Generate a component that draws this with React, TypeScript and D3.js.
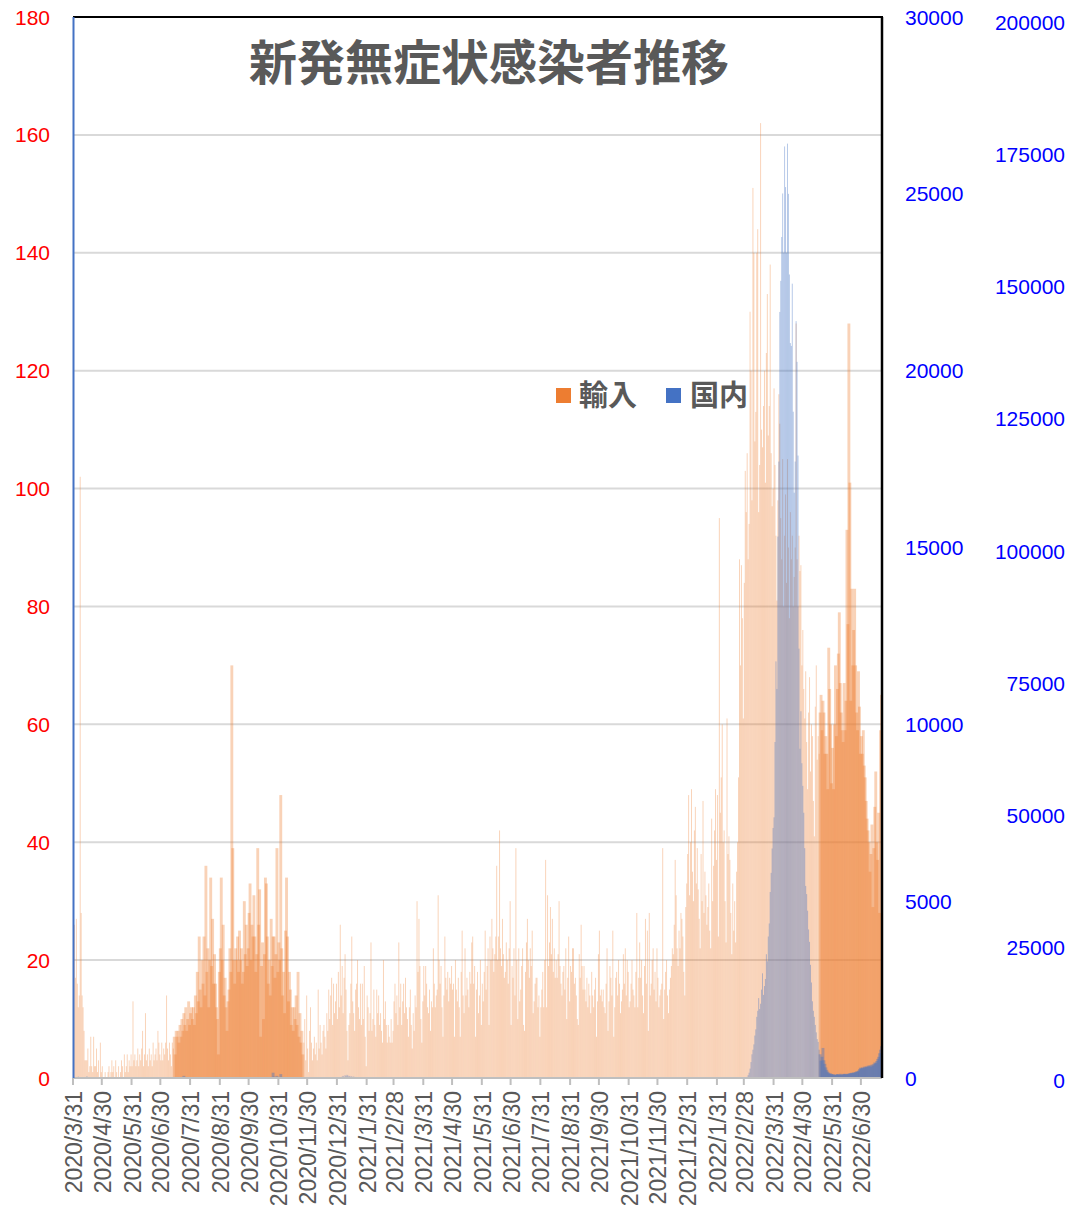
import React from "react";
import * as d3 from "d3";

const W = 1069;
const H = 1208;
const plot = { left: 73, right: 882, top: 17, bottom: 1078 };

const parse = d3.timeParse("%Y/%m/%d");

// daily categories
const firstDay = "2020/3/31";
const lastDay = "2022/7/21";

// imported (輸入), daily, left axis
const imported2020 = [
  16,
  26, 17, 27, 16, 12, 14, 102, 28, 14, 12, 8, 3, 3, 3, 5, 1, 2, 7, 2, 1, 7, 2, 2, 5, 1, 3, 0, 6, 1, 2,
  0, 0, 1, 0, 0, 1, 2, 0, 1, 3, 1, 2, 0, 3, 1, 0, 2, 0, 1, 3, 2, 0, 4, 1, 2, 4, 1, 3, 2, 4, 2,
  13, 3, 4, 2, 3, 5, 2, 4, 3, 5, 8, 2, 4, 11, 3, 4, 2, 5, 3, 4, 2, 6, 3, 4, 5, 3, 8, 6, 4, 3,
  6, 3, 5, 4, 6, 14, 5, 3, 6, 4, 2, 6, 5, 7, 4, 8, 7, 8, 6, 9, 7, 10, 8, 11, 9, 12, 8, 10, 13, 9, 11,
  12, 10, 12, 9, 14, 11, 18, 13, 24, 15, 12, 20, 16, 24, 14, 36, 18, 22, 12, 20, 34, 19, 27, 16, 21, 16, 12, 10, 4, 18, 22,
  34, 20, 26, 14, 17, 12, 8, 13, 15, 22, 18, 70, 39, 20, 16, 22, 20, 24, 18, 25, 20, 22, 16, 18, 30, 21, 26, 19, 22, 28,
  33, 20, 26, 24, 31, 24, 18, 21, 39, 26, 32, 7, 19, 23, 10, 21, 34, 33, 24, 16, 20, 14, 27, 19, 24, 24, 17, 21, 39, 18, 23,
  20, 48, 22, 14, 18, 11, 25, 34, 24, 13, 18, 15, 9, 12, 8, 12, 10, 14, 9, 18, 7, 11, 6, 8, 4, 6, 10, 3, 14, 5,
  1, 8, 12, 6, 3, 5, 7, 4, 6, 3, 15, 5, 9, 6, 4, 8, 9, 7, 5, 11, 8, 15, 10, 14, 17, 9, 16, 11, 13, 16, 10,
];
const imported2021 = [
  18, 12, 26, 14, 19, 11, 17, 21, 15, 8, 3, 9, 11, 16, 24, 13, 11, 8, 15, 16, 20, 12, 10, 16, 9, 16, 10, 19, 7, 2, 14,
  12, 8, 11, 23, 8, 10, 15, 9, 7, 15, 11, 14, 9, 11, 8, 6, 20, 10, 13, 9, 6, 9, 7, 6, 10, 6, 8, 13,
  16, 11, 14, 9, 23, 12, 16, 9, 13, 16, 11, 17, 12, 10, 7, 12, 15, 9, 5, 11, 8, 14, 12, 30, 18, 27, 19, 10, 6, 13, 19,
  14, 19, 16, 12, 11, 15, 8, 13, 12, 22, 16, 12, 14, 15, 31, 20, 16, 19, 12, 7, 14, 24, 17, 15, 18, 13, 17, 16, 19, 15,
  16, 7, 20, 15, 13, 17, 12, 7, 18, 25, 14, 11, 22, 14, 17, 15, 12, 18, 16, 23, 24, 16, 19, 7, 15, 18, 11, 14, 20, 9, 16,
  13, 18, 25, 15, 19, 22, 9, 24, 20, 27, 22, 18, 21, 24, 36, 20, 24, 42, 22, 19, 27, 21, 17, 18, 23, 20, 16, 22, 30, 9,
  19, 17, 22, 14, 39, 20, 10, 22, 13, 15, 19, 22, 9, 8, 18, 23, 27, 20, 17, 22, 19, 25, 11, 13, 16, 17, 17, 12, 14, 7, 12,
  15, 18, 12, 20, 37, 12, 31, 19, 23, 29, 21, 27, 18, 22, 17, 20, 17, 21, 30, 19, 16, 14, 18, 19, 15, 22, 10, 17, 24, 13, 19,
  18, 22, 22, 16, 17, 14, 10, 9, 21, 17, 26, 19, 15, 19, 15, 13, 17, 12, 16, 14, 11, 18, 14, 12, 15, 17, 7, 13, 21, 25,
  14, 15, 13, 15, 12, 11, 16, 22, 8, 13, 19, 17, 14, 25, 7, 12, 17, 18, 14, 20, 16, 11, 13, 15, 21, 16, 22, 14, 20, 18, 12,
  13, 16, 20, 15, 14, 12, 18, 28, 12, 17, 23, 17, 20, 14, 11, 19, 27, 16, 25, 8, 28, 14, 16, 20, 22, 15, 18, 13, 22, 17,
  12, 14, 15, 16, 39, 10, 15, 18, 20, 14, 11, 15, 17, 19, 22, 21, 26, 37, 31, 22, 19, 25, 22, 28, 27, 24, 18, 14, 29, 33, 38,
];
const imported2022 = [
  48, 31, 40, 49, 35, 30, 42, 46, 33, 39, 32, 27, 22, 38, 30, 47, 28, 35, 31, 26, 29, 33, 25, 22, 44, 30, 36, 42, 49, 37, 48,
  24, 95, 45, 51, 60, 40, 42, 30, 23, 61, 38, 41, 37, 28, 21, 33, 25, 30, 23, 35, 40, 51, 88, 70, 87, 78, 61, 84,
  103, 96, 106, 88, 94, 130, 120, 98, 151, 140, 108, 113, 140, 144, 96, 104, 162, 110, 107, 114, 120, 101, 123, 133, 109, 114, 138, 106, 97, 100, 117,
  104, 92, 81, 98, 116, 111, 95, 88, 105, 80, 92, 99, 84, 105, 90, 78, 96, 88, 92, 80, 85, 90, 128, 88, 80, 92, 86, 87, 70, 76,
  66, 61, 69, 57, 49, 62, 68, 52, 60, 58, 47, 41, 63, 70, 54, 58, 55, 62, 65, 59, 64, 62, 55, 58, 55, 49, 73, 66, 60, 50, 56,
  49, 60, 70, 58, 66, 72, 79, 67, 62, 59, 57, 67, 59, 64, 93, 77, 128, 101, 64, 83, 70, 76, 83, 70, 62, 59, 69, 63, 55, 58,
  55, 59, 53, 51, 47, 44, 42, 40, 35, 38, 43, 29, 39, 46, 52, 40, 37, 45, 28, 59, 65,
];

// domestic (国内), right axis: scattered small early values
const domesticEarlyDates = [
  "2020/4/5", "2020/4/14", "2020/7/24", "2020/10/25", "2020/10/26", "2020/10/29", "2020/11/2", "2020/11/3",
  "2021/1/5", "2021/1/6", "2021/1/7", "2021/1/8", "2021/1/9", "2021/1/10", "2021/1/11", "2021/1/12",
  "2021/1/13", "2021/1/14", "2021/1/15", "2021/1/16", "2021/1/17", "2021/1/18", "2021/1/19", "2021/1/20",
];
const domesticEarlyValues = [
  40, 50, 60, 150, 40, 60, 110, 30,
  40, 60, 30, 80, 50, 90, 70, 40,
  60, 30, 50, 20, 40, 30, 10, 20,
];
// domestic daily from 2022/3/1
const domesticFrom = "2022/3/1";
const domestic2022 = [
  0, 0, 30, 80, 150, 265, 450, 670, 800, 950, 1200, 1376, 1730, 1900, 2260, 1950, 2100, 2500, 2960, 2350, 2600, 2800, 3500, 3300, 4000, 4370, 5260, 5800, 6490, 7070, 7370,
  9500, 11780, 11000, 15310, 17430, 21660, 22540, 23780, 25010, 23340, 26340, 25190, 23340, 26420, 25000, 22720, 20780, 20700, 22460, 18840, 16550, 17430, 21400, 20250, 17600, 12140, 9310, 10370, 8900, 8260,
  7500, 6500, 5430, 5200, 4730, 4200, 3850, 3200, 2700, 2170, 1900, 1730, 1500, 1290, 1100, 1020, 800, 670, 490, 600, 850, 500, 400, 300, 230, 180, 150, 120, 130, 110, 100,
  110, 80, 90, 100, 110, 100, 90, 120, 100, 90, 110, 120, 110, 100, 120, 110, 120, 140, 130, 150, 140, 160, 150, 170, 190, 180, 210, 250, 290, 270,
  300, 280, 320, 300, 330, 310, 350, 330, 360, 320, 380, 350, 400, 440, 420, 480, 540, 600, 700, 800, 900,
];

// periods where the daily bars overlap (drawn denser)
const densePeriods = [
  ["2020/7/14", "2020/11/25"],
  ["2022/5/18", "2022/7/21"],
];

const leftTicks = [0, 20, 40, 60, 80, 100, 120, 140, 160, 180];
const rightTicks = [0, 5000, 10000, 15000, 20000, 25000, 30000];
const farTicks = [0, 25000, 50000, 75000, 100000, 125000, 150000, 175000, 200000];
const monthTicks = [
  "2020/3/31", "2020/4/30", "2020/5/31", "2020/6/30", "2020/7/31", "2020/8/31", "2020/9/30",
  "2020/10/31", "2020/11/30", "2020/12/31", "2021/1/31", "2021/2/28", "2021/3/31", "2021/4/30",
  "2021/5/31", "2021/6/30", "2021/7/31", "2021/8/31", "2021/9/30", "2021/10/31", "2021/11/30",
  "2021/12/31", "2022/1/31", "2022/2/28", "2022/3/31", "2022/4/30", "2022/5/31", "2022/6/30",
];

const title = "新発無症状感染者推移";
const seriesNames = ["輸入", "国内"];
const ORANGE = "#ED7D31";
const BLUE = "#4472C4";

const dates = d3.timeDay.range(parse(firstDay), d3.timeDay.offset(parse(lastDay), 1));
const imported = [...imported2020, ...imported2021, ...imported2022];

const domesticMap = new Map();
domesticEarlyDates.forEach((s, i) => domesticMap.set(+parse(s), domesticEarlyValues[i]));
const d22 = parse(domesticFrom);
domestic2022.forEach((v, i) => domesticMap.set(+d3.timeDay.offset(d22, i), v));
const domestic = dates.map((d) => domesticMap.get(+d) || 0);

const dense = densePeriods.map(([a, b]) => [parse(a), parse(b)]);
const isDense = (d) => dense.some(([a, b]) => d >= a && d <= b);

const x = d3
  .scaleTime()
  .domain([dates[0], d3.timeDay.offset(dates[dates.length - 1], 1)])
  .range([plot.left, plot.right]);
const yLeft = d3.scaleLinear().domain([0, 180]).range([plot.bottom, plot.top]);
const yRight = d3.scaleLinear().domain([0, 30000]).range([plot.bottom, plot.top]);
const yFar = d3.scaleLinear().domain([0, 200000]).range([1080, 22]);

const numFont = "'Liberation Sans', Arial, sans-serif";
const cjkFont = "'Noto Sans CJK JP', 'Noto Sans CJK SC', sans-serif";

export default function App() {
  const step = x(dates[1]) - x(dates[0]);

  const bar = (d, v, scale, color, op, key) => {
    if (!v) return null;
    const wide = isDense(d);
    const x0 = wide ? x(d) - step : x(d);
    const w = wide ? step * 3 : step;
    const y0 = scale(v);
    return (
      <rect key={key} x={x0} y={y0} width={w} height={plot.bottom - y0} fill={color} fillOpacity={op} />
    );
  };

  return (
    <svg
      width={W}
      height={H}
      style={{ position: "absolute", left: 0, top: 0, background: "#fff" }}
    >
      <rect x={0} y={0} width={W} height={H} fill="#fff" />

      {/* gridlines */}
      {leftTicks.map((t) => (
        <line key={"g" + t} x1={plot.left} x2={plot.right} y1={yLeft(t)} y2={yLeft(t)} stroke="#D9D9D9" strokeWidth={2} />
      ))}

      {/* bars */}
      <g>{dates.map((d, i) => bar(d, imported[i], yLeft, ORANGE, 0.35, "o" + i))}</g>
      <g>{dates.map((d, i) => bar(d, domestic[i], yRight, BLUE, 0.4, "b" + i))}</g>

      {/* axis lines & frame */}
      <line x1={plot.left} x2={plot.right} y1={plot.bottom} y2={plot.bottom} stroke="#BFBFBF" strokeWidth={2} />
      {monthTicks.map((t) => {
        const xx = x(parse(t));
        return <line key={"t" + t} x1={xx} x2={xx} y1={plot.bottom} y2={plot.bottom + 7} stroke="#BFBFBF" strokeWidth={2} />;
      })}
      <line x1={plot.left} x2={plot.right + 1} y1={plot.top} y2={plot.top} stroke="#000" strokeWidth={2} />
      <line x1={plot.right} x2={plot.right} y1={plot.top} y2={plot.bottom} stroke="#000" strokeWidth={2.5} />
      <line x1={plot.left + 0.5} x2={plot.left + 0.5} y1={plot.top} y2={plot.bottom} stroke={BLUE} strokeWidth={2} />

      {/* left axis */}
      {leftTicks.map((t) => (
        <text key={"l" + t} x={50} y={yLeft(t)} textAnchor="end" dominantBaseline="central" fill="#FF0000" fontSize={21} fontFamily={numFont}>
          {t}
        </text>
      ))}
      {/* right axis */}
      {rightTicks.map((t) => (
        <text key={"r" + t} x={905} y={yRight(t)} textAnchor="start" dominantBaseline="central" fill="#0000FF" fontSize={21} fontFamily={numFont}>
          {t}
        </text>
      ))}
      {/* far right axis */}
      {farTicks.map((t) => (
        <text key={"f" + t} x={1065} y={yFar(t)} textAnchor="end" dominantBaseline="central" fill="#0000FF" fontSize={21} fontFamily={numFont}>
          {t}
        </text>
      ))}

      {/* x labels */}
      {monthTicks.map((t) => (
        <text
          key={"x" + t}
          transform={`translate(${x(parse(t)) + 1},1091) rotate(-90)`}
          textAnchor="end"
          dominantBaseline="central"
          fill="#595959"
          fontSize={23}
          fontFamily={numFont}
        >
          {t}
        </text>
      ))}

      {/* title */}
      <text x={489} y={80} textAnchor="middle" fill="#595959" fontSize={48} fontWeight="bold" fontFamily={cjkFont}>
        {title}
      </text>

      {/* legend */}
      <rect x={556} y={388} width={15} height={15} fill={ORANGE} />
      <text x={579} y={406} fill="#595959" fontSize={29} fontWeight="bold" fontFamily={cjkFont}>
        {seriesNames[0]}
      </text>
      <rect x={666} y={388} width={15} height={15} fill={BLUE} />
      <text x={690} y={406} fill="#595959" fontSize={29} fontWeight="bold" fontFamily={cjkFont}>
        {seriesNames[1]}
      </text>
    </svg>
  );
}
